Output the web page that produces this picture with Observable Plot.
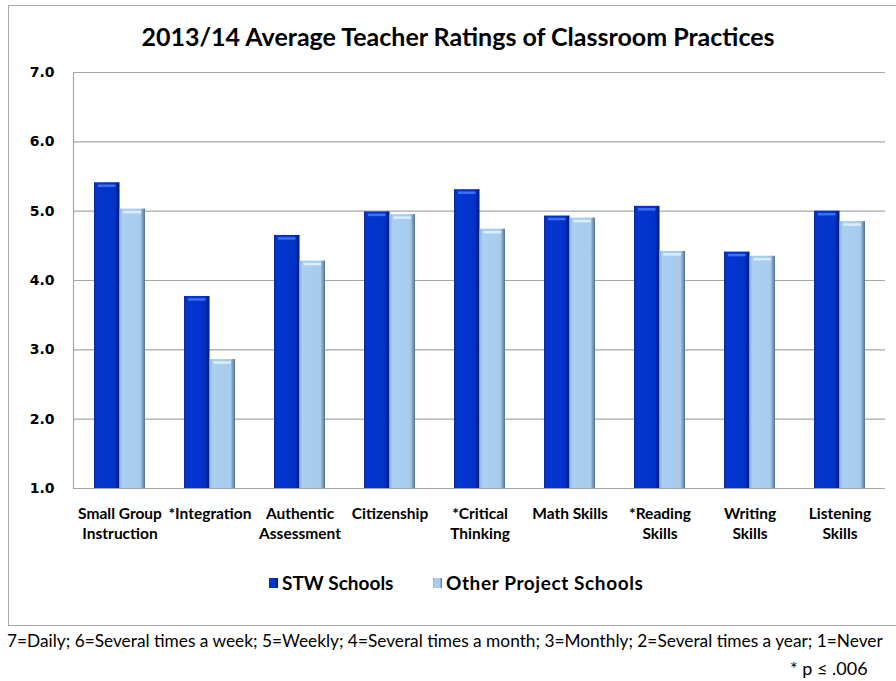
<!DOCTYPE html>
<html>
<head>
<meta charset="utf-8">
<script src="https://cdn.jsdelivr.net/npm/d3@7"></script>
<script src="https://cdn.jsdelivr.net/npm/@observablehq/plot@0.6"></script>
<style>
  html, body { margin: 0; padding: 0; background: #fff; }
  #wrap { position: relative; width: 896px; height: 681px; overflow: hidden; background: #fff; font-family: Lato, "Open Sans", sans-serif; color: #000; }
  #box { position: absolute; left: 8px; top: 5px; width: 910px; height: 621px; border: 1px solid #a8a8a8; box-sizing: border-box; }
  #title { position: absolute; left: 0; width: 916px; top: 21px; text-align: center; font-weight: bold; font-size: 25px; line-height: 30px; }
  #chart { position: absolute; left: 0; top: 60px; }
  #legend { position: absolute; top: 571px; left: 0; width: 896px; height: 24px; font-weight: bold; font-size: 19px; line-height: 24px; }
  #legend .item { position: absolute; top: 0; display: flex; align-items: center; white-space: nowrap; }
  #legend .sw { width: 9px; height: 10px; margin-right: 4px; }
  #foot { position: absolute; left: 7px; top: 630px; white-space: nowrap; font-size: 17.3px; line-height: 22px; }
  #pnote { position: absolute; left: 790px; top: 657px; white-space: nowrap; font-size: 18px; line-height: 22px; }
</style>
</head>
<body>
<div id="wrap">
  <div id="box"></div>
  <div id="title"></div>
  <div id="chart"></div>
  <div id="legend"></div>
  <div id="foot"></div>
  <div id="pnote"></div>
</div>
<script>
const titleText = "2013/14 Average Teacher Ratings of Classroom Practices";
const categories = ["Small Group\nInstruction", "*Integration", "Authentic\nAssessment", "Citizenship", "*Critical\nThinking", "Math Skills", "*Reading\nSkills", "Writing\nSkills", "Listening\nSkills"];
const series = ["STW Schools", "Other Project Schools"];
const stwValues = [5.41, 3.77, 4.65, 4.99, 5.31, 4.93, 5.07, 4.41, 5.00];
const otherValues = [5.03, 2.86, 4.28, 4.95, 4.74, 4.90, 4.42, 4.35, 4.85];
const yTicks = [1, 2, 3, 4, 5, 6, 7];
const footText = "7=Daily; 6=Several times a week; 5=Weekly; 4=Several times a month; 3=Monthly; 2=Several times a year; 1=Never";
const pText = "* p \u2264 .006";

const stwData = categories.map((c, i) => ({category: c, series: series[0], value: stwValues[i]}));
const otherData = categories.map((c, i) => ({category: c, series: series[1], value: otherValues[i]}));

const half = 25.5;

const chart = Plot.plot({
  width: 896,
  height: 490,
  marginTop: 12,
  marginBottom: 62,
  marginLeft: 73,
  marginRight: 11,
  style: {background: "transparent", overflow: "visible"},
  x: {domain: categories, paddingInner: 0.435, paddingOuter: 0.2175, label: null},
  y: {domain: [1, 7], label: null},
  marks: [
    Plot.gridY(yTicks, {stroke: "#a6a6a6", strokeOpacity: 1, strokeWidth: 1.2}),
    Plot.frame({anchor: "left", stroke: "#a6a6a6", strokeWidth: 1.2}),
    Plot.barY(stwData, {x: "category", y1: 1, y2: "value", fill: "url(#gSTW)", insetRight: half}),
    Plot.barY(otherData, {x: "category", y1: 1, y2: "value", fill: "url(#gOther)", insetLeft: half}),
    Plot.tickY(stwData, {x: "category", y: "value", dy: 3, stroke: "#3f6ff0", strokeWidth: 2.5, insetLeft: 4, insetRight: half + 4}),
    Plot.tickY(otherData, {x: "category", y: "value", dy: 3, stroke: "#d8efff", strokeWidth: 2.5, insetLeft: half + 4, insetRight: 4}),
    Plot.ruleY([1], {stroke: "#a6a6a6", strokeWidth: 1.2}),
    Plot.axisY(yTicks, {tickSize: 0, tickPadding: 19, tickFormat: d => d.toFixed(1), fontSize: 14, fontWeight: "bold", fontFamily: "DejaVu Sans", fill: "#000", label: null}),
    Plot.axisX({tickSize: 0, tickPadding: 16, fontSize: 15.5, fontWeight: "bold", fontFamily: "Lato", fill: "#000", lineHeight: 1.32, label: null})
  ]
});

// gradient definitions for bevelled bars
const defs = document.createElementNS("http://www.w3.org/2000/svg", "defs");
defs.innerHTML = `
  <linearGradient id="gSTW" x1="0" x2="1" y1="0" y2="0">
    <stop offset="0" stop-color="#0a2c9e"/>
    <stop offset="0.12" stop-color="#0336d2"/>
    <stop offset="0.82" stop-color="#0233c8"/>
    <stop offset="1" stop-color="#001a70"/>
  </linearGradient>
  <linearGradient id="gOther" x1="0" x2="1" y1="0" y2="0">
    <stop offset="0" stop-color="#8fb3d6"/>
    <stop offset="0.12" stop-color="#abcff1"/>
    <stop offset="0.82" stop-color="#a6cbed"/>
    <stop offset="1" stop-color="#56718c"/>
  </linearGradient>`;
chart.insertBefore(defs, chart.firstChild);
document.getElementById("chart").appendChild(chart);

document.getElementById("title").textContent = titleText;
document.getElementById("foot").textContent = footText;
document.getElementById("pnote").textContent = pText;

const legend = document.getElementById("legend");
const swatchFills = ["linear-gradient(90deg,#0a2c9e,#0336d2 20%,#0233c8 75%,#001a70)", "linear-gradient(90deg,#8fb3d6,#abcff1 20%,#a6cbed 75%,#56718c)"];
const legendLeft = [269, 433];
series.forEach((s, i) => {
  const item = document.createElement("div");
  item.className = "item";
  item.style.left = legendLeft[i] + "px";
  const sw = document.createElement("div");
  sw.className = "sw";
  sw.style.background = swatchFills[i];
  const label = document.createElement("span");
  label.textContent = s;
  if (i === 1) label.style.letterSpacing = "0.6px";
  item.appendChild(sw);
  item.appendChild(label);
  legend.appendChild(item);
});
</script>
</body>
</html>
